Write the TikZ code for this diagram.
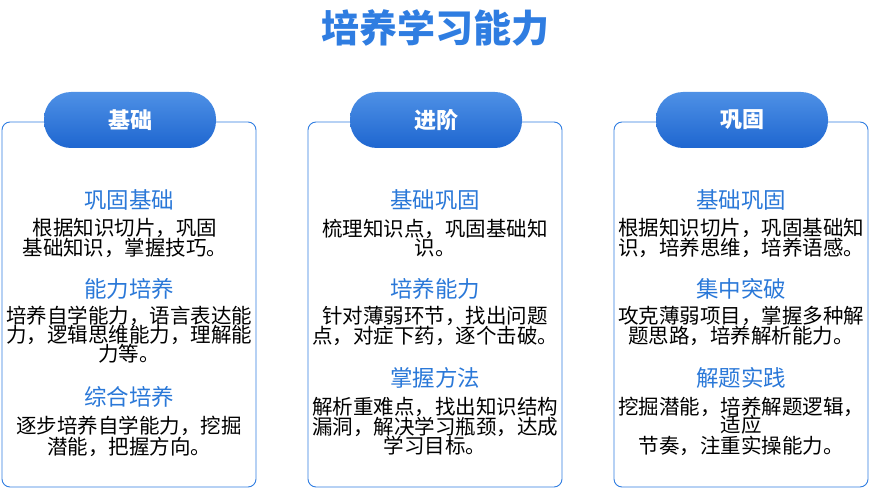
\documentclass[tikz,border=0pt]{standalone}
\usepackage{fontspec}
\newfontfamily\cjk{Noto Sans CJK SC}
\definecolor{bl}{HTML}{2F7DE1}
\definecolor{bl2}{HTML}{1E66D0}
\definecolor{sub}{HTML}{2A78D8}
\begin{document}
\begin{tikzpicture}[x=1pt,y=-1pt,
 panel/.style={draw=bl,line width=0.9pt,rounded corners=8pt},
 pill/.style={rounded corners=27pt,minimum width=172pt,minimum height=56pt,top color=bl!85!white,bottom color=bl2,text=white,font=\cjk\bfseries\fontsize{22}{22}\selectfont},
 subt/.style={text=sub,font=\cjk\fontsize{22.5}{22.5}\selectfont},
 body/.style={text=black,font=\cjk\fontsize{20.5}{20.5}\selectfont,inner sep=0pt}]
\useasboundingbox (0,0) rectangle (870,489);
\node[text=bl,font=\cjk\bfseries\fontsize{38}{38}\selectfont] (title) at (435,28) {培养学习能力};
\foreach \cx/\n in {129/a,435/b,741/c}{
 \draw[panel] (\cx-127,122) rectangle (\cx+127,487);
}
\node[pill] (h1) at (130,120) {基础};
\node[pill] (h2) at (436,120) {进阶};
\node[pill] (h3) at (742,120) {巩固};
% panel 1
\node[subt] (s11) at (129,200) {巩固基础};
\node[body] (t111) at (125,228) {根据知识切片，巩固};
\node[body] (t112) at (125,248) {基础知识，掌握技巧。};
\node[subt] (s12) at (129,289) {能力培养};
\node[body] (t121) at (129,316) {培养自学能力，语言表达能};
\node[body] (t122) at (129,335) {力，逻辑思维能力，理解能};
\node[body] (t123) at (129,354) {力等。};
\node[subt] (s13) at (129,397) {综合培养};
\node[body] (t131) at (129,426) {逐步培养自学能力，挖掘};
\node[body] (t132) at (129,447) {潜能，把握方向。};
% panel 2
\node[subt] (s21) at (435,200) {基础巩固};
\node[body] (t211) at (435,229) {梳理知识点，巩固基础知};
\node[body] (t212) at (435,248) {识。};
\node[subt] (s22) at (435,289) {培养能力};
\node[body] (t221) at (435,316) {针对薄弱环节，找出问题};
\node[body] (t222) at (435,336) {点，对症下药，逐个击破。};
\node[subt] (s23) at (435,378) {掌握方法};
\node[body] (t231) at (435,407) {解析重难点，找出知识结构};
\node[body] (t232) at (435,427) {漏洞，解决学习瓶颈，达成};
\node[body] (t233) at (435,446) {学习目标。};
% panel 3
\node[subt] (s31) at (741,200) {基础巩固};
\node[body] (t311) at (741,228) {根据知识切片，巩固基础知};
\node[body] (t312) at (741,248) {识，培养思维，培养语感。};
\node[subt] (s32) at (741,289) {集中突破};
\node[body] (t321) at (741,316) {攻克薄弱项目，掌握多种解};
\node[body] (t322) at (741,336) {题思路，培养解析能力。};
\node[subt] (s33) at (741,378) {解题实践};
\node[body] (t331) at (741,407) {挖掘潜能，培养解题逻辑，};
\node[body] (t332) at (741,425) {适应};
\node[body] (t333) at (741,446) {节奏，注重实操能力。};
\end{tikzpicture}
\end{document}
